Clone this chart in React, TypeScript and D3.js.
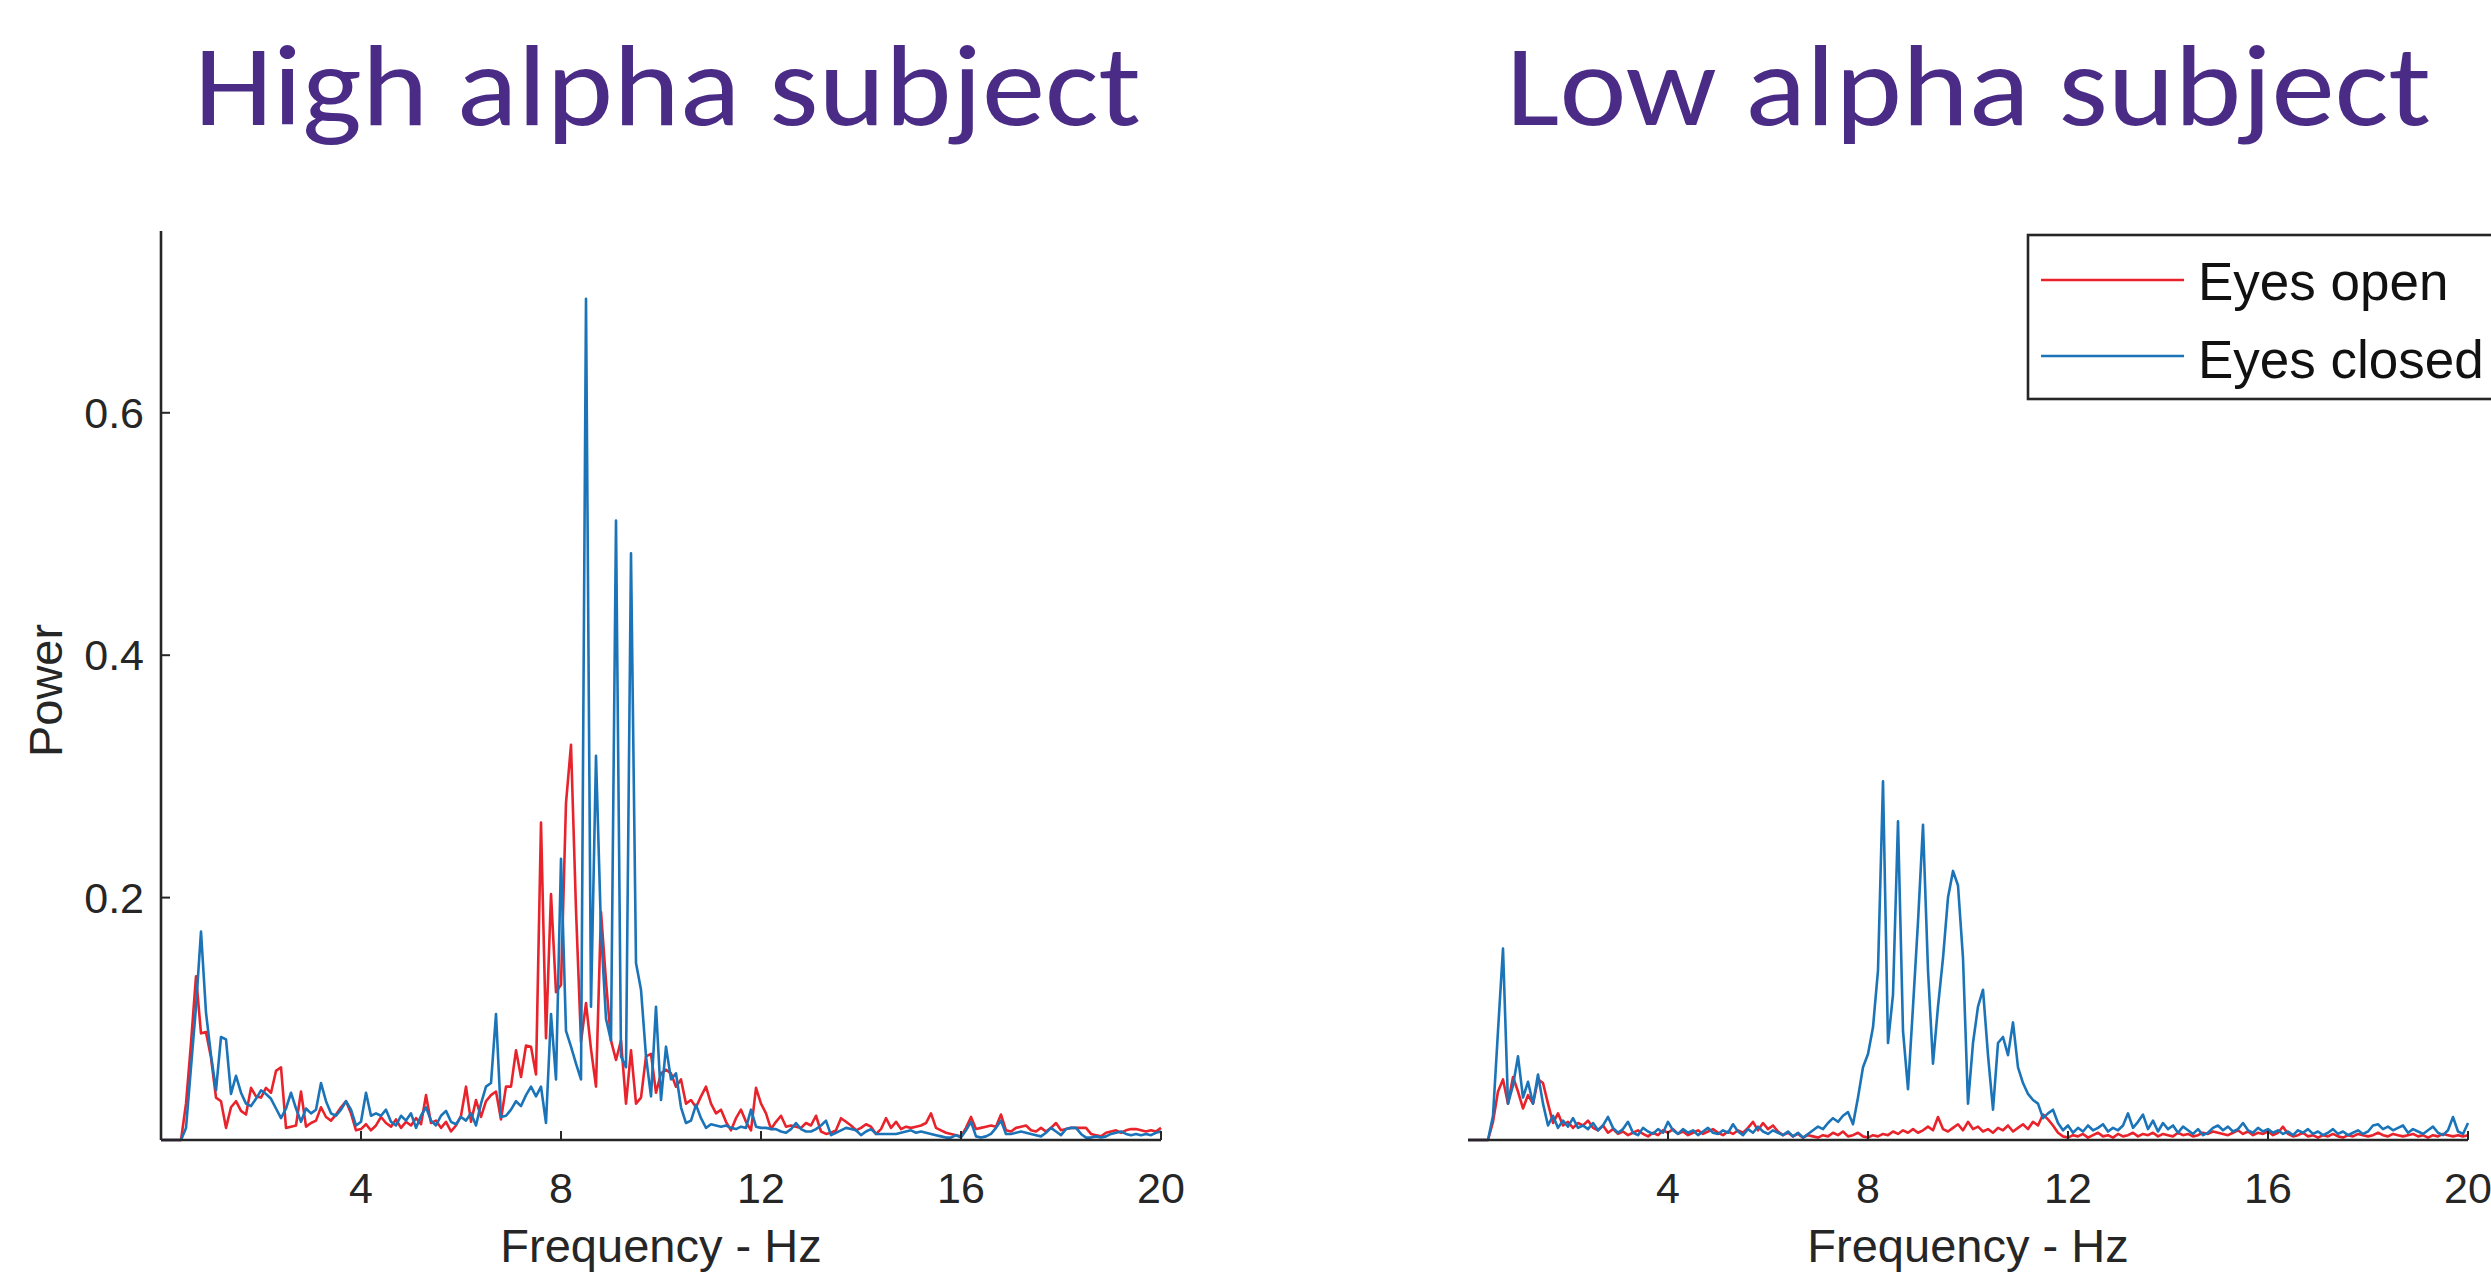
import React from "react";
import * as d3 from "d3";

// ---------- data ----------
const FREQ_STEP = 0.1; // Hz between samples, first sample at 0 Hz
const xTicks = [4, 8, 12, 16, 20];
const yTicks = [0.2, 0.4, 0.6];
const titles = ["High alpha subject", "Low alpha subject"];
const legendLabels = ["Eyes open", "Eyes closed"];
const xLabel = "Frequency - Hz";
const yLabel = "Power";

// High alpha subject, eyes open (red)
const highOpen = [
  0, 0, 0, 0, 0, 0.030, 0.080, 0.135, 0.088, 0.089,
  0.068, 0.035, 0.032, 0.010, 0.027, 0.032, 0.024, 0.021, 0.043, 0.036,
  0.035, 0.043, 0.039, 0.057, 0.060, 0.010, 0.011, 0.012, 0.040, 0.011,
  0.014, 0.016, 0.027, 0.019, 0.016, 0.021, 0.027, 0.032, 0.022, 0.008,
  0.009, 0.013, 0.008, 0.012, 0.019, 0.014, 0.011, 0.017, 0.010, 0.015,
  0.012, 0.018, 0.013, 0.037, 0.014, 0.016, 0.010, 0.015, 0.007, 0.012,
  0.020, 0.044, 0.015, 0.033, 0.019, 0.032, 0.037, 0.040, 0.017, 0.044,
  0.044, 0.074, 0.052, 0.078, 0.077, 0.054, 0.262, 0.084, 0.203, 0.122,
  0.128, 0.278, 0.326, 0.190, 0.081, 0.113, 0.075, 0.044, 0.188, 0.131,
  0.082, 0.066, 0.082, 0.030, 0.074, 0.030, 0.035, 0.069, 0.071, 0.039,
  0.055, 0.058, 0.055, 0.044, 0.050, 0.030, 0.033, 0.027, 0.036, 0.044,
  0.030, 0.022, 0.025, 0.015, 0.008, 0.018, 0.025, 0.015, 0.008, 0.043,
  0.030, 0.022, 0.009, 0.015, 0.020, 0.011, 0.012, 0.011, 0.010, 0.014,
  0.012, 0.020, 0.007, 0.005, 0.006, 0.008, 0.018, 0.015, 0.012, 0.008,
  0.010, 0.013, 0.011, 0.005, 0.009, 0.018, 0.010, 0.015, 0.009, 0.011,
  0.010, 0.011, 0.012, 0.014, 0.022, 0.010, 0.008, 0.006, 0.005, 0.004,
  0.003, 0.010, 0.019, 0.009, 0.010, 0.011, 0.012, 0.011, 0.021, 0.008,
  0.007, 0.010, 0.011, 0.012, 0.008, 0.007, 0.010, 0.007, 0.010, 0.014,
  0.008, 0.009, 0.010, 0.010, 0.010, 0.010, 0.005, 0.004, 0.003, 0.006,
  0.007, 0.008, 0.006, 0.008, 0.009, 0.009, 0.008, 0.007, 0.008, 0.007,
  0.010,
];

// High alpha subject, eyes closed (blue)
const highClosed = [
  0, 0, 0, 0, 0, 0.010, 0.060, 0.110, 0.172, 0.105,
  0.070, 0.041, 0.085, 0.083, 0.038, 0.053, 0.039, 0.030, 0.028, 0.034,
  0.041, 0.038, 0.034, 0.026, 0.018, 0.026, 0.039, 0.026, 0.015, 0.026,
  0.022, 0.025, 0.047, 0.032, 0.022, 0.020, 0.025, 0.032, 0.025, 0.012,
  0.015, 0.039, 0.020, 0.022, 0.020, 0.025, 0.015, 0.012, 0.020, 0.016,
  0.022, 0.010, 0.020, 0.027, 0.016, 0.012, 0.020, 0.024, 0.015, 0.013,
  0.019, 0.016, 0.022, 0.012, 0.030, 0.044, 0.047, 0.104, 0.019, 0.020,
  0.025, 0.032, 0.028, 0.037, 0.044, 0.036, 0.044, 0.014, 0.104, 0.050,
  0.232, 0.090, 0.077, 0.063, 0.050, 0.694, 0.110, 0.317, 0.173, 0.100,
  0.082, 0.511, 0.069, 0.060, 0.484, 0.146, 0.124, 0.069, 0.036, 0.110,
  0.033, 0.077, 0.050, 0.055, 0.027, 0.014, 0.016, 0.029, 0.018, 0.010,
  0.013, 0.012, 0.011, 0.012, 0.010, 0.009, 0.011, 0.010, 0.025, 0.011,
  0.010, 0.010, 0.009, 0.009, 0.007, 0.006, 0.009, 0.014, 0.009, 0.007,
  0.007, 0.009, 0.012, 0.016, 0.004, 0.006, 0.008, 0.010, 0.009, 0.008,
  0.004, 0.007, 0.009, 0.005, 0.005, 0.005, 0.005, 0.005, 0.006, 0.007,
  0.008, 0.006, 0.007, 0.006, 0.005, 0.004, 0.003, 0.002, 0.002, 0.004,
  0.002, 0.008, 0.015, 0.003, 0.002, 0.003, 0.005, 0.010, 0.016, 0.005,
  0.005, 0.006, 0.007, 0.006, 0.005, 0.004, 0.003, 0.006, 0.010, 0.007,
  0.004, 0.009, 0.010, 0.010, 0.005, 0.002, 0.002, 0.003, 0.002, 0.003,
  0.005, 0.006, 0.007, 0.005, 0.004, 0.005, 0.004, 0.005, 0.004, 0.006,
  0.007,
];

// Low alpha subject, eyes open (red)
const lowOpen = [
  0, 0, 0, 0, 0, 0.015, 0.040, 0.050, 0.030, 0.052,
  0.040, 0.026, 0.037, 0.030, 0.050, 0.047, 0.030, 0.014, 0.022, 0.012,
  0.015, 0.010, 0.014, 0.012, 0.016, 0.010, 0.008, 0.012, 0.006, 0.009,
  0.005, 0.007, 0.004, 0.006, 0.008, 0.005, 0.003, 0.006, 0.004, 0.008,
  0.006, 0.009, 0.005, 0.007, 0.004, 0.006, 0.008, 0.005, 0.007, 0.009,
  0.006, 0.004, 0.007, 0.005, 0.008, 0.006, 0.010, 0.015, 0.008, 0.014,
  0.009, 0.012, 0.007, 0.004, 0.006, 0.003, 0.005, 0.002, 0.004, 0.003,
  0.002, 0.004, 0.003, 0.006, 0.004, 0.007, 0.003, 0.004, 0.006, 0.003,
  0.002, 0.004, 0.003, 0.005, 0.004, 0.007, 0.005, 0.008, 0.006, 0.009,
  0.006, 0.008, 0.011, 0.008, 0.019, 0.009, 0.007, 0.010, 0.013, 0.008,
  0.015, 0.009, 0.011, 0.007, 0.009, 0.006, 0.010, 0.008, 0.012, 0.007,
  0.010, 0.013, 0.009, 0.015, 0.012, 0.021, 0.017, 0.012, 0.006, 0.003,
  0.002, 0.004, 0.003, 0.005, 0.002, 0.004, 0.006, 0.003, 0.004, 0.002,
  0.005, 0.003, 0.004, 0.006, 0.003, 0.005, 0.004, 0.006, 0.003, 0.005,
  0.004, 0.003, 0.006, 0.004, 0.005, 0.003, 0.004, 0.006, 0.005, 0.007,
  0.006, 0.005, 0.004, 0.006, 0.008, 0.005, 0.007, 0.004, 0.006, 0.005,
  0.007, 0.004, 0.006, 0.011, 0.005, 0.003, 0.004, 0.006, 0.003, 0.004,
  0.002, 0.004, 0.003, 0.005, 0.003, 0.002, 0.004, 0.003, 0.005, 0.004,
  0.003, 0.004, 0.006, 0.004, 0.003, 0.005, 0.004, 0.003, 0.004, 0.005,
  0.003, 0.004, 0.002, 0.004, 0.003, 0.005, 0.004, 0.003, 0.004, 0.003,
  0.004,
];

// Low alpha subject, eyes closed (blue)
const lowClosed = [
  0, 0, 0, 0, 0, 0.020, 0.090, 0.158, 0.030, 0.045,
  0.069, 0.035, 0.048, 0.030, 0.054, 0.030, 0.012, 0.020, 0.010, 0.016,
  0.011, 0.018, 0.010, 0.012, 0.009, 0.014, 0.008, 0.012, 0.019, 0.010,
  0.006, 0.009, 0.015, 0.006, 0.004, 0.010, 0.007, 0.005, 0.009, 0.006,
  0.015, 0.008, 0.005, 0.009, 0.006, 0.008, 0.004, 0.007, 0.010, 0.006,
  0.005, 0.008, 0.006, 0.013, 0.007, 0.004, 0.009, 0.006, 0.011, 0.007,
  0.005, 0.008, 0.006, 0.004, 0.007, 0.003, 0.006, 0.002, 0.005, 0.008,
  0.011, 0.009, 0.014, 0.018, 0.015, 0.020, 0.023, 0.013, 0.035, 0.060,
  0.071, 0.093, 0.140, 0.296, 0.080, 0.120, 0.263, 0.090, 0.042, 0.110,
  0.180, 0.260, 0.140, 0.063, 0.110, 0.150, 0.200, 0.222, 0.210, 0.150,
  0.030, 0.080, 0.110, 0.124, 0.070, 0.025, 0.080, 0.085, 0.070, 0.097,
  0.060, 0.047, 0.038, 0.033, 0.030, 0.018, 0.022, 0.025, 0.014, 0.008,
  0.012, 0.006, 0.010, 0.007, 0.012, 0.008, 0.010, 0.013, 0.007, 0.010,
  0.008, 0.012, 0.022, 0.010, 0.015, 0.021, 0.009, 0.016, 0.007, 0.014,
  0.009, 0.012, 0.006, 0.011, 0.008, 0.005, 0.009, 0.004, 0.006, 0.010,
  0.012, 0.008, 0.011, 0.007, 0.009, 0.014, 0.008, 0.006, 0.010, 0.007,
  0.009, 0.006, 0.008, 0.005, 0.007, 0.004, 0.008, 0.006, 0.009, 0.005,
  0.007, 0.004, 0.006, 0.009, 0.005, 0.007, 0.004, 0.006, 0.008, 0.005,
  0.007, 0.012, 0.013, 0.009, 0.011, 0.008, 0.010, 0.012, 0.006, 0.009,
  0.007, 0.005, 0.008, 0.011, 0.006, 0.004, 0.008, 0.019, 0.007, 0.005,
  0.014,
];

// ---------- styling ----------
const W = 2491;
const H = 1273;
const RED = "#E8232B";
const BLUE = "#1B74B8";
const AXIS = "#262626";
const TITLE_COLOR = "#4A2C86";
const AX_FONT = "'Liberation Sans', Arial, Helvetica, sans-serif";
const TITLE_FONT = "Carlito, Calibri, Lato, 'Open Sans', sans-serif";
const LINE_W = 2.6;

const yScale = d3.scaleLinear().domain([0, 0.75]).range([1140, 231]);
const xLeft = d3.scaleLinear().domain([0, 20]).range([161, 1161]);
const xRight = d3.scaleLinear().domain([0, 20]).range([1468, 2468]);

type PanelProps = {
  x: d3.ScaleLinear<number, number>;
  open: number[];
  closed: number[];
  showY: boolean;
};

function Panel({ x, open, closed, showY }: PanelProps) {
  const line = d3
    .line<number>()
    .x((_, i) => x(i * FREQ_STEP))
    .y((d) => yScale(d));
  const [x0, x1] = x.range();
  const y0 = yScale(0);
  const [, yTop] = yScale.range();
  return (
    <g>
      <path d={line(open) || ""} fill="none" stroke={RED} strokeWidth={LINE_W} strokeLinejoin="round" />
      <path d={line(closed) || ""} fill="none" stroke={BLUE} strokeWidth={LINE_W} strokeLinejoin="round" />
      {/* x axis */}
      <line x1={x0} x2={x1} y1={y0} y2={y0} stroke={AXIS} strokeWidth={2.6} />
      {xTicks.map((t) => (
        <g key={t}>
          <line x1={x(t)} x2={x(t)} y1={y0} y2={y0 - 9} stroke={AXIS} strokeWidth={2} />
          <text x={x(t)} y={1203} textAnchor="middle" fontFamily={AX_FONT} fontSize={43} fill={AXIS}>
            {t}
          </text>
        </g>
      ))}
      <text x={(x0 + x1) / 2} y={1262} textAnchor="middle" fontFamily={AX_FONT} fontSize={47} fill={AXIS}>
        {xLabel}
      </text>
      {showY && (
        <g>
          <line x1={x0} x2={x0} y1={y0} y2={yTop} stroke={AXIS} strokeWidth={2.6} />
          {yTicks.map((t) => (
            <g key={t}>
              <line x1={x0} x2={x0 + 9} y1={yScale(t)} y2={yScale(t)} stroke={AXIS} strokeWidth={2} />
              <text
                x={x0 - 17}
                y={yScale(t) + 15}
                textAnchor="end"
                fontFamily={AX_FONT}
                fontSize={43}
                fill={AXIS}
              >
                {t.toFixed(1)}
              </text>
            </g>
          ))}
          <text
            transform={`translate(62, ${(y0 + yTop) / 2 + 5}) rotate(-90)`}
            textAnchor="middle"
            fontFamily={AX_FONT}
            fontSize={47}
            fill={AXIS}
          >
            {yLabel}
          </text>
        </g>
      )}
    </g>
  );
}

export default function App() {
  return (
    <svg
      width={W}
      height={H}
      viewBox={`0 0 ${W} ${H}`}
      style={{ position: "absolute", left: 0, top: 0, background: "#fff" }}
    >
      <rect x={0} y={0} width={W} height={H} fill="#fff" />
      <text
        x={194}
        y={125}
        fontFamily={TITLE_FONT}
        fontSize={116}
        fill={TITLE_COLOR}
        textLength={947}
        lengthAdjust="spacingAndGlyphs"
      >
        {titles[0]}
      </text>
      <text
        x={1506}
        y={125}
        fontFamily={TITLE_FONT}
        fontSize={116}
        fill={TITLE_COLOR}
        textLength={925}
        lengthAdjust="spacingAndGlyphs"
      >
        {titles[1]}
      </text>

      <Panel x={xLeft} open={highOpen} closed={highClosed} showY={true} />
      <Panel x={xRight} open={lowOpen} closed={lowClosed} showY={false} />

      {/* legend */}
      <g>
        <rect x={2028} y={235} width={520} height={164} fill="#fff" stroke={AXIS} strokeWidth={2.6} />
        <line x1={2041} x2={2184} y1={280} y2={280} stroke={RED} strokeWidth={LINE_W} />
        <line x1={2041} x2={2184} y1={356} y2={356} stroke={BLUE} strokeWidth={LINE_W} />
        <text x={2198} y={300} fontFamily={AX_FONT} fontSize={53} fill="#111">
          {legendLabels[0]}
        </text>
        <text x={2198} y={378} fontFamily={AX_FONT} fontSize={53} fill="#111">
          {legendLabels[1]}
        </text>
      </g>
    </svg>
  );
}
